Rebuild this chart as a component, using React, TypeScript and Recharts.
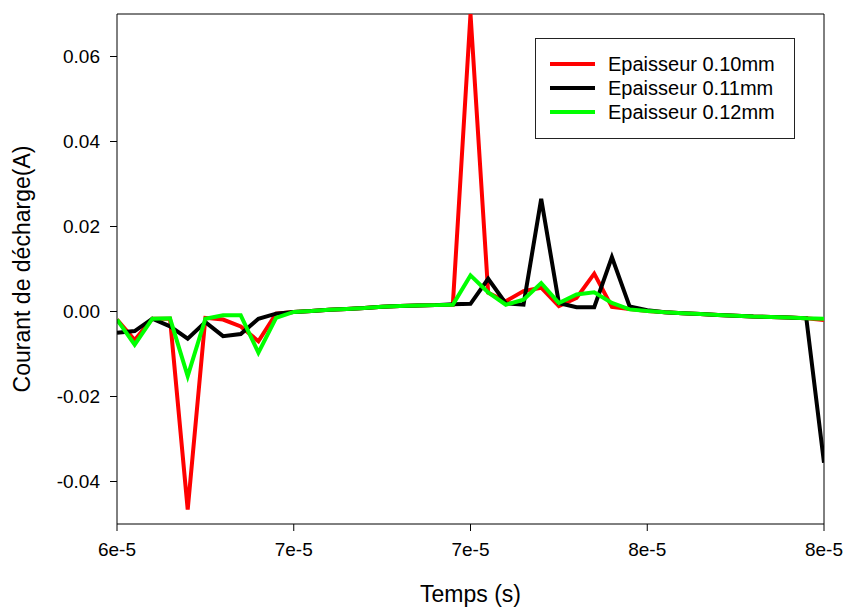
import { LineChart, Line, XAxis, YAxis, ReferenceLine } from "recharts";

// sample times (s)
const temps = [
  60e-6, 60.5e-6, 61e-6, 61.5e-6, 62e-6, 62.5e-6, 63e-6, 63.5e-6, 64e-6, 64.5e-6,
  65e-6, 65.5e-6, 66e-6, 66.5e-6, 67e-6, 67.5e-6, 68e-6, 68.5e-6, 69e-6, 69.5e-6,
  70e-6, 70.5e-6, 71e-6, 71.5e-6, 72e-6, 72.5e-6, 73e-6, 73.5e-6, 74e-6, 74.5e-6,
  75e-6, 75.5e-6, 76e-6, 76.5e-6, 77e-6, 77.5e-6, 78e-6, 78.5e-6, 79e-6, 79.5e-6,
  80e-6,
];

const ep010 = [
  -0.0019, -0.0067, -0.0017, -0.0017, -0.0466, -0.0015, -0.0019, -0.0035, -0.007, -0.0005,
  -0.0001, 0.0001, 0.0004, 0.0006, 0.0008, 0.0011, 0.0013, 0.0014, 0.0015, 0.0016,
  0.07, 0.0044, 0.0024, 0.0048, 0.0056, 0.0013, 0.0032, 0.0089, 0.0011, 0.0006,
  0.0001, -0.0002, -0.0004, -0.0006, -0.0008, -0.001, -0.0012, -0.0013, -0.0014, -0.0016,
  -0.002,
];

const ep011 = [
  -0.005, -0.0046, -0.0017, -0.0035, -0.0064, -0.0025, -0.0058, -0.0053, -0.0017, -0.0005,
  -0.0001, 0.0001, 0.0004, 0.0006, 0.0008, 0.0011, 0.0013, 0.0014, 0.0015, 0.0017,
  0.0018, 0.0077, 0.0019, 0.0016, 0.0265, 0.002, 0.001, 0.001, 0.0128, 0.0012,
  0.0003, -0.0002, -0.0004, -0.0006, -0.0008, -0.001, -0.0012, -0.0013, -0.0014, -0.0016,
  -0.0356,
];

const ep012 = [
  -0.0019, -0.0078, -0.0017, -0.0016, -0.0152, -0.0017, -0.0009, -0.0009, -0.0097, -0.0015,
  -0.0001, 0.0001, 0.0004, 0.0006, 0.0008, 0.0011, 0.0013, 0.0014, 0.0015, 0.0016,
  0.0085, 0.0045, 0.0016, 0.0028, 0.0067, 0.002, 0.004, 0.0045, 0.002, 0.0005,
  0.0001, -0.0002, -0.0004, -0.0006, -0.0008, -0.001, -0.0012, -0.0013, -0.0014, -0.0016,
  -0.0017,
];

const xTicks = [6e-5, 6.5e-5, 7e-5, 7.5e-5, 8e-5];
const xTickLabels = ["6e-5", "7e-5", "7e-5", "8e-5", "8e-5"];
const yTicks = [-0.04, -0.02, 0, 0.02, 0.04, 0.06];

const series = [
  { key: "ep010", name: "Epaisseur 0.10mm", color: "#ff0000" },
  { key: "ep011", name: "Epaisseur 0.11mm", color: "#000000" },
  { key: "ep012", name: "Epaisseur 0.12mm", color: "#00ff00" },
];

const data = temps.map((t, i) => ({ t, ep010: ep010[i], ep011: ep011[i], ep012: ep012[i] }));

const font = "'Liberation Sans', Arial, sans-serif";
const tickStyle = { fill: "#000", fontSize: 19, fontFamily: font };

function LegendBox() {
  return (
    <div
      style={{
        position: "absolute",
        left: 535,
        top: 38,
        border: "1.5px solid #222",
        background: "#fff",
        width: 260,
        height: 101,
        boxSizing: "border-box",
        padding: "13px 0 0 14px",
        fontFamily: font,
        fontSize: 20,
        color: "#000",
      }}
    >
      {series.map((s) => (
        <div key={s.key} style={{ display: "flex", alignItems: "center", height: 24 }}>
          <div style={{ width: 45, height: 4, background: s.color, marginRight: 13 }} />
          <span>{s.name}</span>
        </div>
      ))}
    </div>
  );
}

export default function App() {
  return (
    <div style={{ position: "absolute", left: 0, top: 0, width: 845, height: 609, background: "#fff", fontFamily: font }}>
      <LineChart width={845} height={609} data={data} margin={{ top: 14, right: 21, bottom: 0, left: 0 }}>
        <XAxis
          dataKey="t"
          type="number"
          domain={[6e-5, 8e-5]}
          ticks={xTicks}
          tickFormatter={(v: number) => xTickLabels[xTicks.indexOf(v)] ?? ""}
          tick={tickStyle}
          tickSize={7}
          tickMargin={12}
          height={85}
          stroke="#000"
          allowDataOverflow
          label={{ value: "Temps (s)", position: "insideBottom", offset: 7, fill: "#000", fontSize: 23, fontFamily: font }}
        />
        <YAxis
          type="number"
          domain={[-0.05, 0.07]}
          ticks={yTicks}
          tickFormatter={(v: number) => v.toFixed(2)}
          tick={tickStyle}
          tickSize={7}
          tickMargin={10}
          width={117}
          stroke="#000"
          allowDataOverflow
          label={{
            value: "Courant de décharge(A)",
            angle: -90,
            position: "insideLeft",
            offset: 22,
            style: { textAnchor: "middle" },
            fill: "#000",
            fontSize: 23,
            fontFamily: font,
          }}
        />
        <ReferenceLine y={0.07} stroke="#000" strokeWidth={1} />
        <ReferenceLine x={8e-5} stroke="#000" strokeWidth={1} />
        {series.map((s) => (
          <Line
            key={s.key}
            dataKey={s.key}
            name={s.name}
            type="linear"
            stroke={s.color}
            strokeWidth={4}
            dot={false}
            activeDot={false}
            isAnimationActive={false}
          />
        ))}
      </LineChart>
      <LegendBox />
    </div>
  );
}
